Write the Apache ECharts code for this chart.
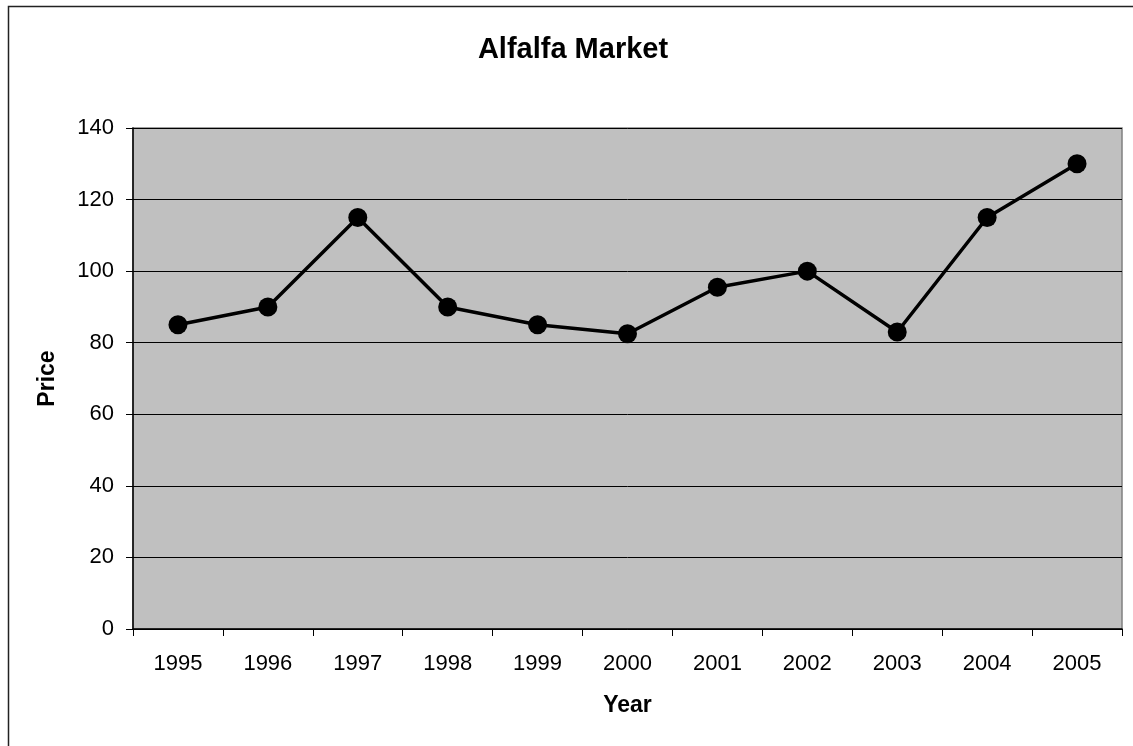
<!DOCTYPE html>
<html>
<head>
<meta charset="utf-8">
<script src="https://cdn.jsdelivr.net/npm/echarts@6/dist/echarts.min.js"></script>
<style>html,body{margin:0;padding:0;background:#fff;}#c{width:1133px;height:746px;}</style>
</head>
<body>
<div id="c"></div>
<script>
const years = ['1995','1996','1997','1998','1999','2000','2001','2002','2003','2004','2005'];
const prices = [85, 90, 115, 90, 85, 82.5, 95.5, 100, 83, 115, 130];
const yTicks = { min: 0, max: 140, interval: 20 };

const chart = echarts.init(document.getElementById('c'), null, { renderer: 'canvas' });
const font = '"Liberation Sans", Arial, sans-serif';
chart.setOption({
  animation: false,
  backgroundColor: '#fff',
  graphic: [{
    type: 'rect', z: 100, silent: true,
    shape: { x: 8.5, y: 6.5, width: 1200, height: 800 },
    style: { fill: 'none', stroke: '#222', lineWidth: 1.5 }
  }],
  title: {
    text: 'Alfalfa Market',
    left: 568, top: 30, textAlign: 'center',
    textStyle: { fontFamily: font, fontSize: 29, fontWeight: 'bold', color: '#000' }
  },
  grid: {
    left: 133, top: 128, right: 11, bottom: 117,
    show: true, backgroundColor: '#C0C0C0', borderColor: '#808080', borderWidth: 1.5
  },
  xAxis: {
    type: 'category', data: years, boundaryGap: true,
    name: 'Year', nameLocation: 'middle', nameGap: 65,
    nameTextStyle: { fontFamily: font, fontSize: 23, fontWeight: 'bold', color: '#000' },
    axisLine: { lineStyle: { color: '#000', width: 1.5 } },
    axisTick: { show: true, length: 7, alignWithLabel: false, lineStyle: { color: '#000' } },
    axisLabel: { fontFamily: font, fontSize: 22, color: '#000', margin: 24 },
    splitLine: { show: false }
  },
  yAxis: {
    type: 'value', min: yTicks.min, max: yTicks.max, interval: yTicks.interval,
    name: 'Price', nameLocation: 'middle', nameGap: 74, nameRotate: 90,
    nameTextStyle: { fontFamily: font, fontSize: 23, fontWeight: 'bold', color: '#000' },
    axisLine: { show: true, lineStyle: { color: '#000', width: 1.5 } },
    axisTick: { show: true, length: 7, lineStyle: { color: '#000' } },
    axisLabel: { fontFamily: font, fontSize: 22, color: '#000', margin: 19 },
    splitLine: { show: true, lineStyle: { color: '#000', width: 1 } }
  },
  series: [{
    type: 'line', data: prices,
    symbol: 'circle', symbolSize: 19,
    lineStyle: { color: '#000', width: 3.5 },
    itemStyle: { color: '#000' }
  }]
});
</script>
</body>
</html>
